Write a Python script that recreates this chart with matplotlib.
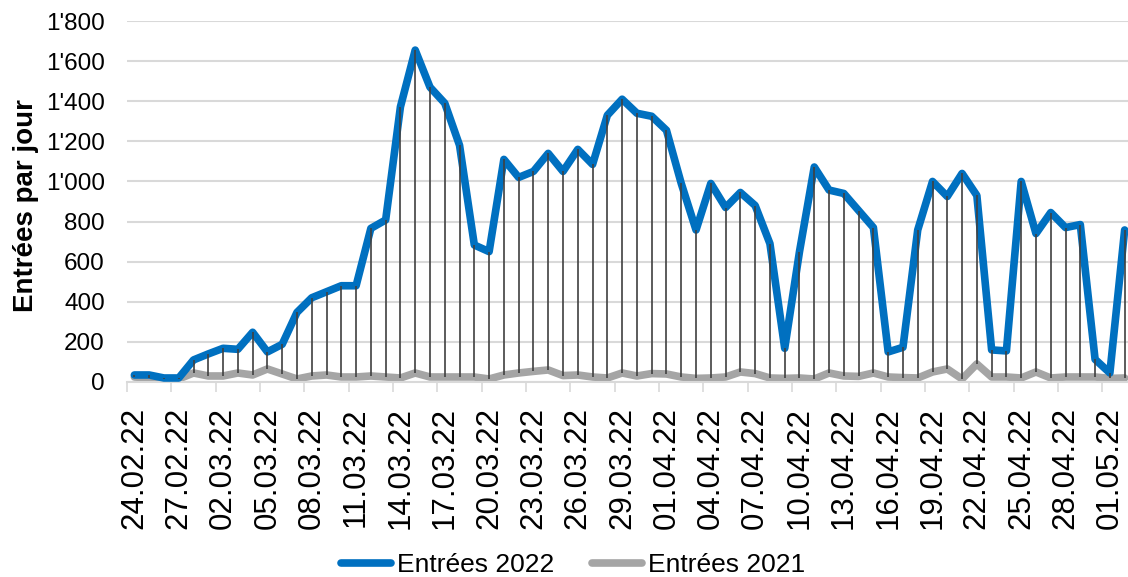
import numpy as np
import pandas as pd
import matplotlib
matplotlib.use('Agg')
import matplotlib.pyplot as plt
from matplotlib.ticker import FuncFormatter

plt.rcParams['font.family'] = ['Liberation Sans', 'DejaVu Sans']

# Daten: tägliche Einträge
dates = pd.date_range('2022-02-24', '2022-05-02', freq='D')
entrees_2022 = [35, 35, 20, 20, 110, 140, 168, 163, 248, 150,
                188, 347, 420, 450, 480, 480, 766, 808, 1372, 1655,
                1470, 1390, 1180, 683, 650, 1110, 1020, 1050, 1140, 1050,
                1160, 1085, 1330, 1410, 1340, 1325, 1255, 990, 758, 990,
                870, 945, 880, 690, 168, 650, 1072, 957, 940, 855,
                770, 150, 173, 758, 1000, 925, 1040, 930, 160, 155,
                1000, 740, 845, 770, 785, 113, 45, 758]
entrees_2021 = [25, 20, 15, 15, 45, 30, 30, 45, 35, 65,
                40, 15, 30, 35, 25, 25, 30, 25, 20, 45,
                25, 25, 25, 25, 15, 35, 45, 53, 60, 32,
                35, 25, 20, 45, 30, 42, 40, 25, 18, 20,
                25, 50, 42, 20, 18, 20, 15, 45, 30, 28,
                45, 25, 22, 20, 50, 65, 15, 90, 25, 25,
                20, 50, 20, 25, 25, 25, 18, 20]
labels = [d.strftime('%d.%m.%y') for d in dates]

x = np.arange(len(dates))
y22 = np.array(entrees_2022)
y21 = np.array(entrees_2021)

fig = plt.figure(figsize=(11.28, 5.77), dpi=100)
ax = fig.add_axes([127 / 1128, 195 / 577, 1001 / 1128, 361 / 577])

# Linien
ax.plot(x, y22, color='#0070C0', lw=5.5, solid_joinstyle='round', solid_capstyle='round',
        label='Entrées 2022', zorder=3)
ax.plot(x, y21, color='#A5A5A5', lw=5.5, solid_joinstyle='round', solid_capstyle='round',
        label='Entrées 2021', zorder=2)
# Hoch-Tief-Linien
ax.vlines(x, np.minimum(y21, y22), np.maximum(y21, y22), color='#404040', lw=1.2, zorder=4)

ax.set_ylim(0, 1800)
ax.set_xlim(-0.5, -0.5 + 1001 / 14.78)
ax.set_yticks(np.arange(0, 1801, 200))
ax.yaxis.set_major_formatter(FuncFormatter(lambda v, p: f'{int(v):,}'.replace(',', "'")))
ax.grid(axis='y', color='#D9D9D9', lw=1.5)
ax.set_axisbelow(True)

ax.set_xticks(x[::3])
ax.set_xticklabels(labels[::3], rotation=90, fontsize=22.5)
ax.set_xticks(np.arange(-0.5, len(x), 3), minor=True)
ax.tick_params(axis='x', which='major', length=0, pad=18)
ax.tick_params(axis='x', which='minor', length=7, width=1.2, color='#D9D9D9')
ax.tick_params(axis='y', length=0, labelsize=17.5, pad=16)

for s in ['top', 'right', 'left']:
    ax.spines[s].set_visible(False)
ax.spines['bottom'].set_color('#D9D9D9')
ax.spines['bottom'].set_linewidth(1.5)

ax.set_ylabel('Entrées par jour', fontsize=20, fontweight='bold')
ax.yaxis.set_label_coords(-0.088, 0.49)

fig.legend(loc='center', bbox_to_anchor=(0.508, 1 - 565 / 577), ncol=2, frameon=False,
           fontsize=19, handlelength=1.9, handletextpad=0.25, columnspacing=1.4)

plt.savefig('out.png', dpi=100)
